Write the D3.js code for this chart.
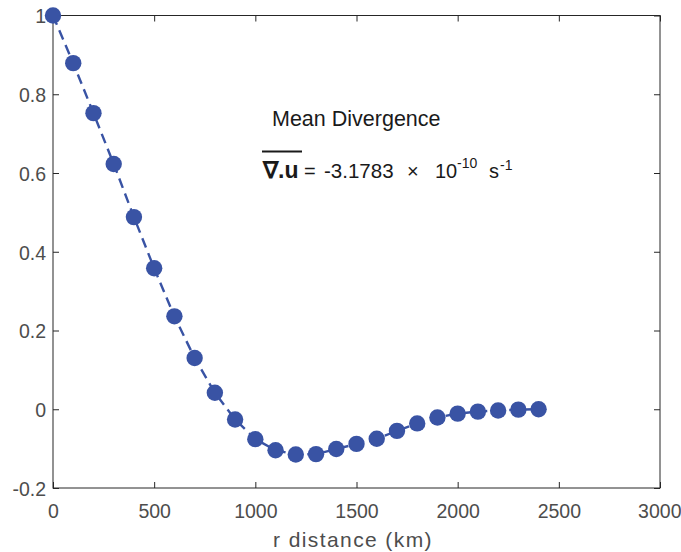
<!DOCTYPE html>
<html><head><meta charset="utf-8">
<script src="https://cdn.jsdelivr.net/npm/d3@7"></script>
<style>body{margin:0;background:#fff}svg{display:block}</style>
</head><body>
<script>
const distances = [0,100,200,300,400,500,600,700,800,900,1000,1100,1200,1300,1400,1500,1600,1700,1800,1900,2000,2100,2200,2300,2400];
const correlation = [1.0,0.879,0.752,0.623,0.488,0.358,0.236,0.130,0.042,-0.026,-0.076,-0.104,-0.115,-0.114,-0.101,-0.088,-0.075,-0.055,-0.036,-0.021,-0.011,-0.006,-0.003,-0.001,0.0];
const xTicks = [0,500,1000,1500,2000,2500,3000];
const yTicks = [-0.2,0,0.2,0.4,0.6,0.8,1];
const xLabel = "r distance (km)";

const W = 681, H = 552;
const m = {left:53, right:21, top:15.5, bottom:64};
const font = "'Liberation Sans', Arial, Helvetica, sans-serif";
const svg = d3.select("body").append("svg").attr("width",W).attr("height",H)
  .style("font-family",font);
const x = d3.scaleLinear().domain([0,3000]).range([m.left, W-m.right]);
const y = d3.scaleLinear().domain([-0.2,1]).range([H-m.bottom, m.top]);
const axisColor = "#262626", textColor = "#4d4d4d";
const tl = 6;

svg.append("rect").attr("x",x(0)).attr("y",y(1)).attr("width",x(3000)-x(0)).attr("height",y(-0.2)-y(1))
  .attr("fill","none").attr("stroke",axisColor).attr("stroke-width",1);

const gx = svg.append("g").attr("transform",`translate(0,${y(-0.2)})`)
  .call(d3.axisBottom(x).tickValues(xTicks).tickSizeInner(-tl).tickSizeOuter(0).tickPadding(16).tickFormat(d3.format("d")));
const gxt = svg.append("g").attr("transform",`translate(0,${y(1)})`)
  .call(d3.axisTop(x).tickValues(xTicks).tickSizeInner(-tl).tickSizeOuter(0).tickFormat(""));
const gy = svg.append("g").attr("transform",`translate(${x(0)},0)`)
  .call(d3.axisLeft(y).tickValues(yTicks).tickSizeInner(-tl).tickSizeOuter(0).tickPadding(7).tickFormat(d => d===0 ? "0" : String(+d.toFixed(1))));
const gyr = svg.append("g").attr("transform",`translate(${x(3000)},0)`)
  .call(d3.axisRight(y).tickValues(yTicks).tickSizeInner(-tl).tickSizeOuter(0).tickFormat(""));
[gx,gxt,gy,gyr].forEach(g=>{
  g.select(".domain").remove();
  g.selectAll("line").attr("stroke",axisColor);
  g.selectAll("text").attr("fill",textColor).style("font-size","19.5px").style("font-family",font);
});
gy.selectAll("text").attr("dy","0.38em");
gx.selectAll("text").filter(d=>d===3000).attr("text-anchor","end").attr("x",21);

svg.append("text").attr("x",353).attr("y",547).attr("text-anchor","middle")
  .attr("fill",textColor).style("font-size","21px").style("letter-spacing","1.4px").text(xLabel);

const pts = distances.map((d,i)=>[d,correlation[i]]);
const color = "#3953a4";
svg.append("path").datum(pts)
  .attr("d", d3.line().x(d=>x(d[0])).y(d=>y(d[1])))
  .attr("fill","none").attr("stroke",color).attr("stroke-width",2.4).attr("stroke-dasharray","10,6");
svg.append("g").selectAll("circle").data(pts).join("circle")
  .attr("cx",d=>x(d[0])).attr("cy",d=>y(d[1])).attr("r",8.2).attr("fill",color);

const ink = "#1a1a1a";
svg.append("text").attr("x",272).attr("y",126).attr("fill",ink).style("font-size","21.5px").text("Mean Divergence");
const base = 178;
const t2 = svg.append("g").attr("fill",ink);
t2.append("text").attr("x",263).attr("y",base).style("font-size","23px").style("font-weight","bold").text("∇.u");
t2.append("text").attr("x",304).attr("y",base).style("font-size","20px").text("=");
t2.append("text").attr("x",324).attr("y",base).style("font-size","20.5px").text("-3.1783");
t2.append("text").attr("x",407).attr("y",base).style("font-size","20px").text("\u00D7");
t2.append("text").attr("x",435).attr("y",base).style("font-size","20px").text("10");
t2.append("text").attr("x",457).attr("y",base-10).style("font-size","14px").text("-10");
t2.append("text").attr("x",489).attr("y",base).style("font-size","20px").text("s");
t2.append("text").attr("x",500).attr("y",base-8).style("font-size","14px").text("-1");
svg.append("line").attr("x1",262).attr("x2",302).attr("y1",151.5).attr("y2",151.5).attr("stroke",ink).attr("stroke-width",2.2);
</script>
</body></html>
